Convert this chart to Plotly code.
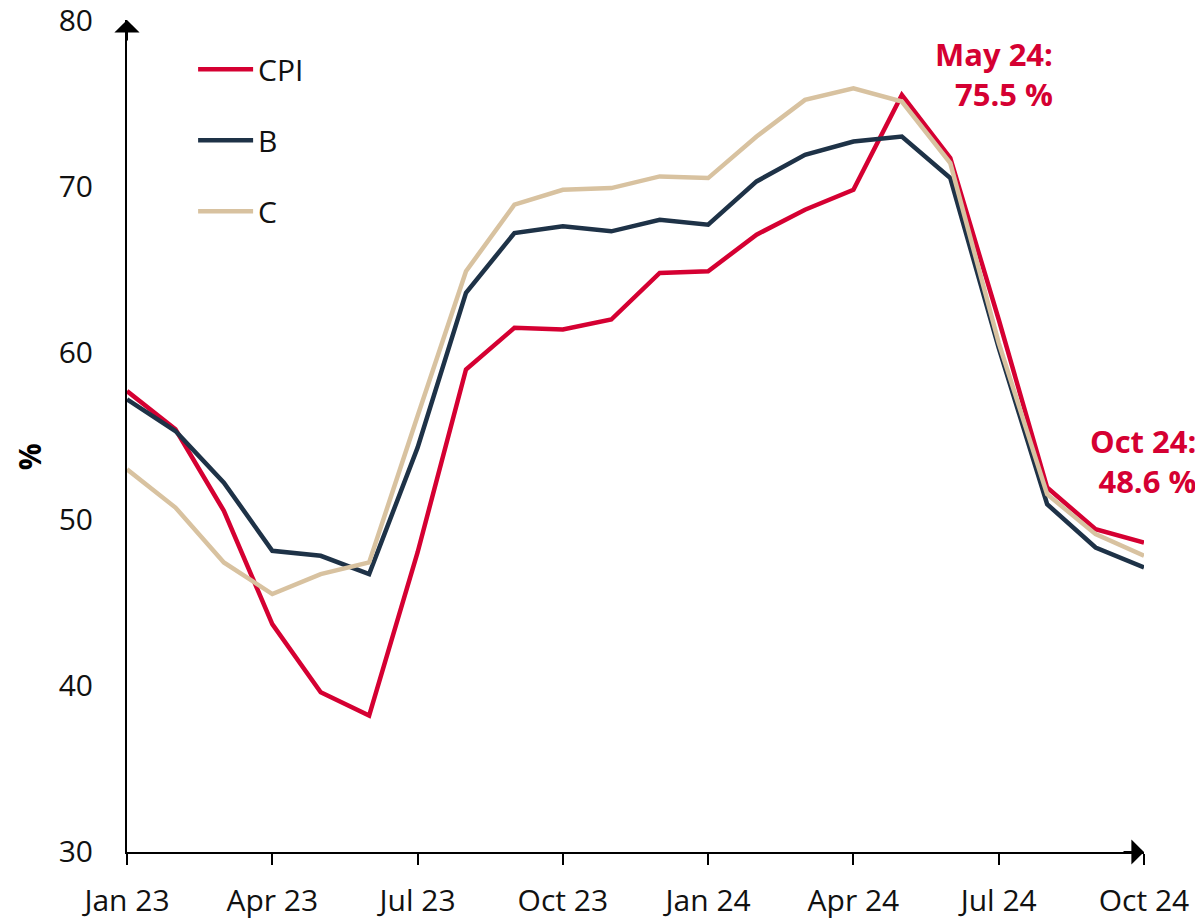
import plotly.graph_objects as go

months = ["Jan 23", "Feb 23", "Mar 23", "Apr 23", "May 23", "Jun 23", "Jul 23", "Aug 23",
          "Sep 23", "Oct 23", "Nov 23", "Dec 23", "Jan 24", "Feb 24", "Mar 24", "Apr 24",
          "May 24", "Jun 24", "Jul 24", "Aug 24", "Sep 24", "Oct 24"]
cpi = [57.7, 55.4, 50.5, 43.7, 39.6, 38.2, 48.0, 59.0, 61.5, 61.4, 62.0, 64.8,
       64.9, 67.1, 68.6, 69.8, 75.5, 71.7, 62.0, 51.9, 49.4, 48.6]
b = [57.2, 55.3, 52.2, 48.1, 47.8, 46.7, 54.3, 63.6, 67.2, 67.6, 67.3, 68.0,
     67.7, 70.3, 71.9, 72.7, 73.0, 70.5, 60.3, 50.9, 48.3, 47.1]
c = [53.0, 50.7, 47.4, 45.5, 46.7, 47.4, 56.2, 64.9, 68.9, 69.8, 69.9, 70.6,
     70.5, 73.0, 75.2, 75.9, 75.1, 71.4, 60.6, 51.5, 49.1, 47.8]
series_names = ["CPI", "B", "C"]
colors = ["#D50032", "#1E3247", "#D8C2A0"]
tick_idx = [0, 3, 6, 9, 12, 15, 18, 21]
y_ticks = [30, 40, 50, 60, 70, 80]

FONT = "Open Sans, Noto Sans, sans-serif"
x = list(range(len(months)))

fig = go.Figure()
for name, vals, col in zip(series_names, [cpi, b, c], colors):
    fig.add_trace(go.Scatter(x=x, y=vals, name=name, mode="lines",
                             line=dict(color=col, width=4.5),
                             legendgroup=name))

fig.update_layout(
    width=1195, height=920,
    margin=dict(l=127, r=51, t=20, b=68, autoexpand=False),
    paper_bgcolor="white", plot_bgcolor="white",
    font=dict(family=FONT, size=30, color="#111111"),
    showlegend=True,
    legend=dict(x=0.065, y=0.972, xanchor="left", yanchor="top",
                font=dict(size=30, color="#111111"),
                tracegroupgap=29, itemwidth=55,
                bgcolor="rgba(0,0,0,0)"),
    xaxis=dict(range=[0, 21], showgrid=False, zeroline=False,
               showline=True, linecolor="black", linewidth=2,
               ticks="outside", ticklen=11, tickwidth=2, tickcolor="black",
               tickvals=tick_idx, ticktext=[months[i] for i in tick_idx],
               ticklabelstandoff=10, ticklabeloverflow="allow",
               tickfont=dict(size=30, color="#111111")),
    yaxis=dict(range=[29.999, 80.001], showgrid=False, zeroline=False,
               showline=True, linecolor="black", linewidth=2,
               ticks="", tickvals=y_ticks,
               ticklabelstandoff=26, ticklabeloverflow="allow",
               tickfont=dict(size=30, color="#111111")),
)

# axis arrows
fig.add_annotation(xref="paper", yref="paper", x=0, y=1, ax=0, ay=22,
                   showarrow=True, arrowhead=1, arrowsize=2.1, arrowwidth=2,
                   arrowcolor="black", text="")
fig.add_annotation(xref="paper", yref="paper", x=1, y=0, ax=-22, ay=0,
                   showarrow=True, arrowhead=1, arrowsize=2.1, arrowwidth=2,
                   arrowcolor="black", text="")

# y title
fig.add_annotation(xref="paper", yref="paper", x=-0.096, y=0.475,
                   xanchor="center", yanchor="middle",
                   text="<b>%</b>", showarrow=False, textangle=-90,
                   font=dict(size=30, color="black", family=FONT))

# value labels
fig.add_annotation(xref="paper", yref="paper", x=(1055 - 127) / 1017, y=(852 - 31) / 832,
                   xanchor="right", yanchor="top", align="right", showarrow=False,
                   text="<b>May 24:<br>75.5 %</b>",
                   font=dict(size=31, color="#D50032", family=FONT))
fig.add_annotation(xref="paper", yref="paper", x=(1198 - 127) / 1017, y=(852 - 418) / 832,
                   xanchor="right", yanchor="top", align="right", showarrow=False,
                   text="<b>Oct 24:<br>48.6 %</b>",
                   font=dict(size=31, color="#D50032", family=FONT))

fig.write_html("out.html", config={"displayModeBar": False},
               post_script="document.body.style.margin='0px';document.body.style.overflow='hidden';")
